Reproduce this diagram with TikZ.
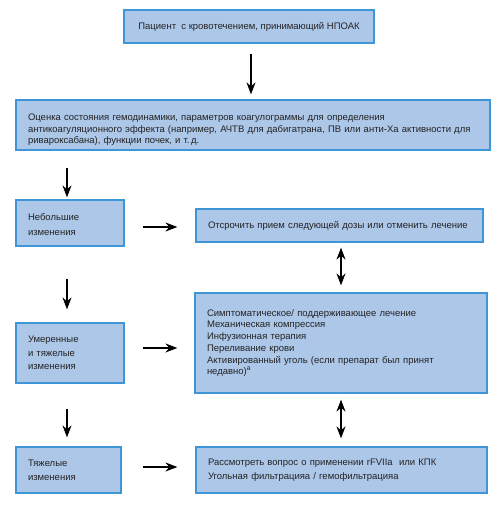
\documentclass[tikz,border=0pt]{standalone}
\usepackage{fontspec}
\setmainfont{Liberation Sans}
\usetikzlibrary{arrows.meta}
\definecolor{boxfill}{RGB}{173,199,233}
\definecolor{boxline}{RGB}{62,150,214}
\definecolor{txt}{RGB}{35,35,35}
\begin{document}
\begin{tikzpicture}[x=1pt,y=-1pt,
  box/.style={draw=boxline,fill=boxfill,line width=1.2pt,inner sep=0pt,text=txt,
    font=\fontsize{9.5}{11.7}\selectfont},
  lead/.style={font=\fontsize{9.5}{#1}\selectfont},
  arr/.style={line width=1.5pt,-{Stealth[length=12pt,width=9pt]}},
  darr/.style={line width=1.5pt,{Stealth[length=12pt,width=9pt]}-{Stealth[length=12pt,width=9pt]}}]
\useasboundingbox (0,0) rectangle (500,506);
\node[box,minimum width=250pt,minimum height=33pt,align=center] (b1) at (249,26.5)
  {Пациент\ \ с кровотечением, принимающий НПОАК};
\node[box,minimum width=474pt,minimum height=50pt,text width=450pt,align=left] (b2) at (253,125)
  {\rule{0pt}{16pt}Оценка состояния гемодинамики, параметров коагулограммы для определения\\
   антикоагуляционного эффекта (например, АЧТВ для дабигатрана, ПВ или анти-Ха активности для\\
   ривароксабана), функции почек, и т.\,д.};
\node[box,lead=15,minimum width=108pt,minimum height=46pt,text width=84pt,align=left] (b3) at (70,223)
  {\rule{0pt}{10pt}Небольшие\\изменения};
\node[box,minimum width=287pt,minimum height=33pt,text width=263pt,align=left] (b4) at (339.5,225.5)
  {Отсрочить прием следующей дозы или отменить лечение};
\node[box,minimum width=292pt,minimum height=100pt,text width=268pt,align=left] (b5) at (341,343)
  {Симптоматическое/ поддерживающее лечение\\
   Механическая компрессия\\
   Инфузионная терапия\\
   Переливание крови\\
   Активированный уголь (если препарат был принят\\
   недавно)\textsuperscript{а}};
\node[box,lead=13.6,minimum width=108pt,minimum height=60pt,text width=84pt,align=left] (b6) at (70,353)
  {Умеренные\\и тяжелые\\изменения};
\node[box,lead=14,minimum width=105pt,minimum height=46pt,text width=81pt,align=left] (b7) at (68.5,470)
  {Тяжелые\\изменения};
\node[box,lead=14,minimum width=291pt,minimum height=46pt,text width=267pt,align=left] (b8) at (341.5,470)
  {Рассмотреть вопрос о применении rFVIIa\ \ или КПК\\
   Угольная фильтрацияа / гемофильтрацияа};
% vertical arrows
\draw[arr,shorten <=10pt,shorten >=5pt] ([xshift=2pt]b1.south) -- ([xshift=2pt]b1.south |- b2.north);
\draw[arr,shorten <=17pt,shorten >=2pt] ([xshift=-3pt]b3.north |- b2.south) -- ([xshift=-3pt]b3.north);
\draw[arr,shorten <=32pt,shorten >=13pt] ([xshift=-3pt]b3.south) -- ([xshift=-3pt]b6.north);
\draw[arr,shorten <=25pt,shorten >=9pt] ([xshift=-3pt]b6.south) -- ([xshift=-1.5pt]b7.north);
% horizontal arrows
\draw[arr,shorten <=18pt,shorten >=18pt] ([yshift=-1.5pt]b3.east |- b4.west) -- ([yshift=-1.5pt]b4.west);
\draw[arr,shorten <=18pt,shorten >=17pt] ([yshift=5pt]b6.east) -- ([yshift=5pt]b6.east -| b5.west);
\draw[arr,shorten <=21pt,shorten >=18pt] ([yshift=3pt]b7.east) -- ([yshift=3pt]b7.east -| b8.west);
% double arrows
\draw[darr,shorten <=5pt,shorten >=7pt] (b4.south -| b5.north) -- (b5.north);
\draw[darr,shorten <=6pt,shorten >=8pt] (b5.south) -- (b5.south |- b8.north);
\end{tikzpicture}
\end{document}
